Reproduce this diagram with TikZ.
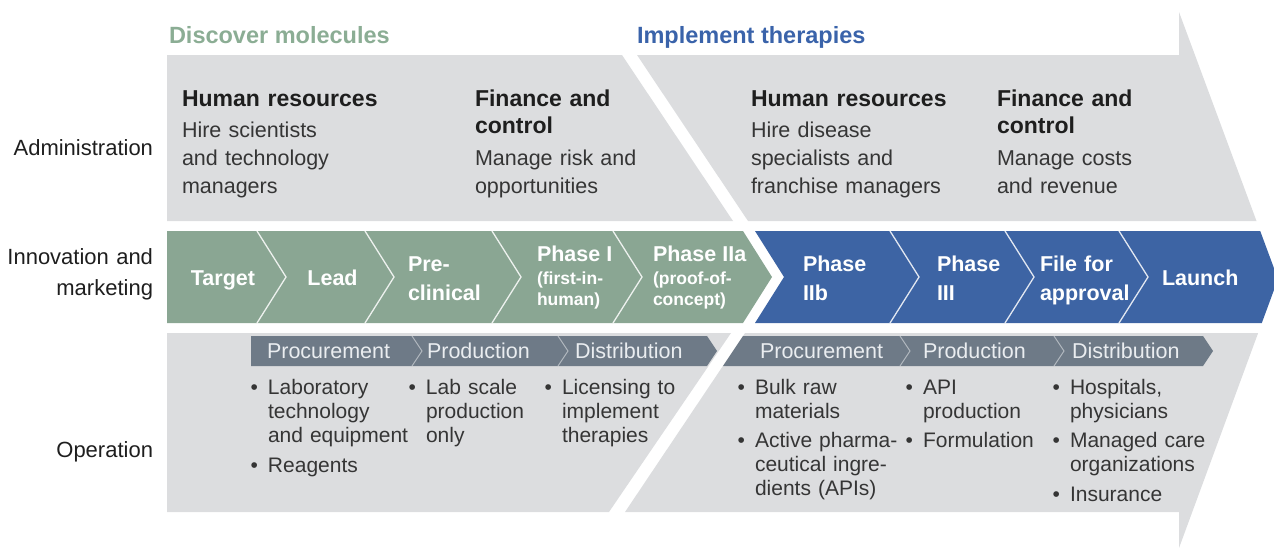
\documentclass[tikz,border=0pt]{standalone}
\usepackage{fontspec}
\setmainfont{Liberation Sans}
\definecolor{panel}{RGB}{220,221,223}
\definecolor{sage}{RGB}{138,166,147}
\definecolor{sagehead}{RGB}{139,173,148}
\definecolor{royal}{RGB}{61,100,164}
\definecolor{royalhead}{RGB}{58,99,170}
\definecolor{slate}{RGB}{110,122,135}
\definecolor{slatetext}{RGB}{234,237,240}
\definecolor{ink}{RGB}{30,30,30}
\newcommand\itm{\leavevmode\llap{\textbullet\hspace{10pt}}}
\begin{document}
\begin{tikzpicture}[x=1pt,y=-1pt,
  every node/.style={inner sep=0pt,outer sep=0pt},
  rowlabel/.style={anchor=base east,text width=170pt,align=right,text=ink,font=\fontsize{22}{31}\selectfont},
  stagehead/.style={anchor=base west,font=\fontsize{23.5}{26}\selectfont\bfseries},
  admintitle/.style={anchor=base west,text width=240pt,align=left,text=ink,font=\fontsize{23}{27}\selectfont\bfseries},
  admintext/.style={anchor=base west,text width=240pt,align=left,text=ink!90,font=\fontsize{21.5}{28}\selectfont},
  steplabel/.style={text=white,font=\fontsize{21.5}{29}\selectfont\bfseries},
  steplines/.style={steplabel,anchor=base west,text width=110pt,align=left},
  stepnote/.style={anchor=base west,text width=110pt,align=left,text=white,font=\fontsize{17.5}{21.5}\selectfont\bfseries},
  bartext/.style={anchor=base west,text=slatetext,font=\fontsize{21.5}{24}\selectfont},
  bullets/.style={anchor=base west,text width=200pt,align=left,text=ink!90,font=\fontsize{21}{24}\selectfont},
  divider/.style={draw=white,line width=1.3pt,opacity=0.85},
  bardivider/.style={draw=white,line width=0.9pt,opacity=0.5}
]
\useasboundingbox (0,0) rectangle (1274,547);

% body of the big arrow and its bands
\begin{scope}
  \clip (167,55) -- (1179,55) -- (1179,12) -- (1278,279) -- (1179,548)
        -- (1179,512) -- (167,512) -- cycle;
  % administration
  \fill[panel] (167,55) -- (622,55) -- (733,221) -- (167,221) -- cycle;
  \fill[panel] (637,55) -- (1179,55) -- (1179,0) -- (1300,0) -- (1300,221)
               -- (748,221) -- cycle;
  % innovation and marketing chevrons
  \fill[sage] (167,231) -- (743,231) -- (772,277) -- (743,323) -- (167,323) -- cycle;
  \fill[royal] (755,231) -- (1300,231) -- (1300,323) -- (755,323) -- (784,277) -- cycle;
  % operation
  \fill[panel] (167,333) -- (731,333) -- (609,512) -- (167,512) -- cycle;
  \fill[panel] (745,333) -- (1300,333) -- (1300,560) -- (1179,560) -- (1179,512)
               -- (625,512) -- cycle;
\end{scope}

% chevron separators
\foreach \t in {257,365,492,613,890,1005,1119}
  \draw[divider] (\t,231) -- ({\t+29},277) -- (\t,323);

% supply chain bars
\fill[slate] (251,336) -- (707,336) -- (717,351) -- (707,366) -- (251,366) -- cycle;
\fill[slate] (743,336) -- (1203,336) -- (1213,351) -- (1203,366) -- (723,366) -- cycle;
\foreach \t in {412,558,900,1054}
  \draw[bardivider] (\t,336) -- ({\t+10},351) -- (\t,366);

% row labels
\node[rowlabel] (lblAdmin) at (153,155) {Administration};
\node[rowlabel] (lblInno) at (153,264) {Innovation and\\marketing};
\node[rowlabel] (lblOps) at (153,457) {Operation};

% stage headings
\node[stagehead,text=sagehead] (hdDiscover) at (169,43) {Discover molecules};
\node[stagehead,text=royalhead] (hdImplement) at (637,43) {Implement therapies};

% administration texts
\node[admintitle] (hrL) at (182,106) {Human resources};
\node[admintext] (hrLtxt) at (182,137) {Hire scientists\\and technology\\managers};
\node[admintitle] (fcL) at (475,106) {Finance and\\control};
\node[admintext] (fcLtxt) at (475,165) {Manage risk and\\opportunities};
\node[admintitle] (hrR) at (751,106) {Human resources};
\node[admintext] (hrRtxt) at (751,137) {Hire disease\\specialists and\\franchise managers};
\node[admintitle] (fcR) at (997,106) {Finance and\\control};
\node[admintext] (fcRtxt) at (997,165) {Manage costs\\and revenue};

% chevron labels
\node[steplabel,anchor=base] (sTarget) at (223,285) {Target};
\node[steplabel,anchor=base] (sLead) at (332.5,285) {Lead};
\node[steplines] (sPre) at (408,271) {Pre-\\clinical};
\node[steplabel,anchor=base west] (sP1) at (537,261) {Phase I};
\node[stepnote] (sP1n) at (537,284) {(first-in-\\human)};
\node[steplabel,anchor=base west] (sP2a) at (653,261) {Phase IIa};
\node[stepnote] (sP2an) at (653,284) {(proof-of-\\concept)};
\node[steplines] (sP2b) at (803,271) {Phase\\IIb};
\node[steplines] (sP3) at (937,271) {Phase\\III};
\node[steplines] (sFile) at (1040,271) {File for\\approval};
\node[steplabel,anchor=base west] (sLaunch) at (1162,285) {Launch};

% bar labels
\node[bartext] (bProcL) at (267,358) {Procurement};
\node[bartext] (bProdL) at (427,358) {Production};
\node[bartext] (bDistL) at (575,358) {Distribution};
\node[bartext] (bProcR) at (760,358) {Procurement};
\node[bartext] (bProdR) at (923,358) {Production};
\node[bartext] (bDistR) at (1072,358) {Distribution};

% operation details
\node[bullets] (oProcL) at (268,394) {\itm Laboratory\\technology\\and equipment\\[6pt]\itm Reagents};
\node[bullets] (oProdL) at (426,394) {\itm Lab scale\\production\\only};
\node[bullets] (oDistL) at (562,394) {\itm Licensing to\\implement\\therapies};
\node[bullets] (oProcR) at (755,394) {\itm Bulk raw\\materials\\[5pt]\itm Active pharma-\\ceutical ingre-\\dients (APIs)};
\node[bullets] (oProdR) at (923,394) {\itm API\\production\\[5pt]\itm Formulation};
\node[bullets] (oDistR) at (1070,394) {\itm Hospitals,\\physicians\\[5pt]\itm Managed care\\organizations\\[6pt]\itm Insurance};
\end{tikzpicture}
\end{document}
